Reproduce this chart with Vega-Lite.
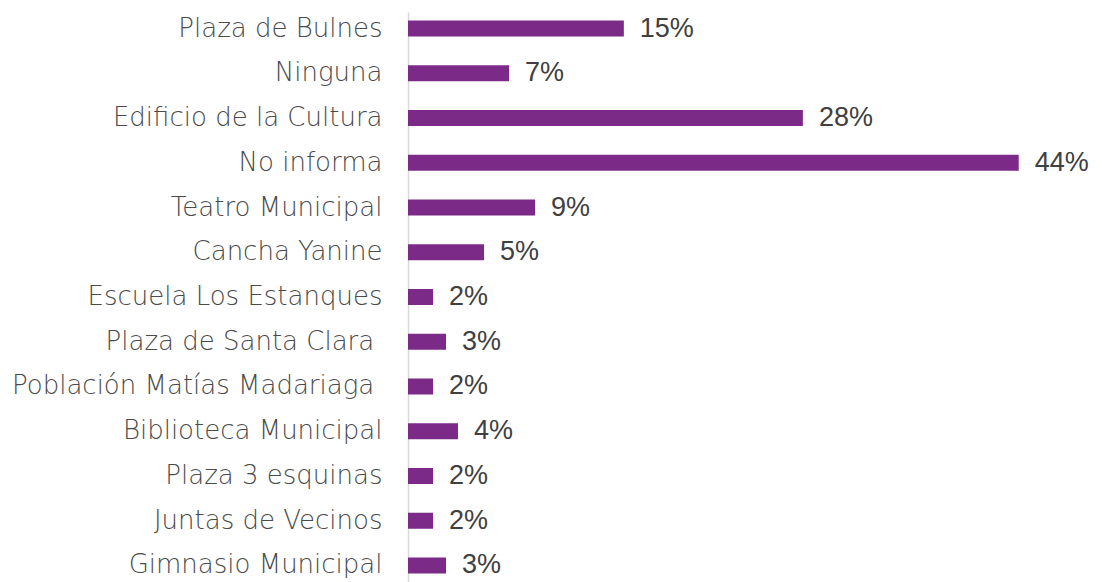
{
  "$schema": "https://vega.github.io/schema/vega-lite/v6.json",
  "autosize": "none",
  "padding": {"left": 408, "top": 12, "right": 0, "bottom": 0},
  "width": 694,
  "height": 570,
  "background": "white",
  "config": {"view": {"stroke": null}},
  "data": {
    "values": [
      {"lugar": "Plaza de Bulnes", "valor": 15.55, "etiqueta": "15%"},
      {"lugar": "Ninguna", "valor": 7.28, "etiqueta": "7%"},
      {"lugar": "Edificio de la Cultura", "valor": 28.45, "etiqueta": "28%"},
      {"lugar": "No informa", "valor": 44.0, "etiqueta": "44%"},
      {"lugar": "Teatro Municipal", "valor": 9.15, "etiqueta": "9%"},
      {"lugar": "Cancha Yanine", "valor": 5.48, "etiqueta": "5%"},
      {"lugar": "Escuela Los Estanques", "valor": 1.8, "etiqueta": "2%"},
      {"lugar": "Plaza de Santa Clara\u00a0\u200b", "valor": 2.74, "etiqueta": "3%"},
      {"lugar": "Población Matías Madariaga\u00a0\u200b", "valor": 1.8, "etiqueta": "2%"},
      {"lugar": "Biblioteca Municipal", "valor": 3.6, "etiqueta": "4%"},
      {"lugar": "Plaza 3 esquinas", "valor": 1.8, "etiqueta": "2%"},
      {"lugar": "Juntas de Vecinos", "valor": 1.8, "etiqueta": "2%"},
      {"lugar": "Gimnasio Municipal", "valor": 2.74, "etiqueta": "3%"}
    ]
  },
  "encoding": {
    "y": {
      "field": "lugar",
      "type": "nominal",
      "sort": null,
      "scale": {"paddingInner": 0.642, "paddingOuter": 0.19},
      "axis": {
        "title": null,
        "ticks": false,
        "labelPadding": 26,
        "labelFont": "DejaVu Sans",
        "labelFontSize": 26,
        "labelFontWeight": 300,
        "labelColor": "#4a4a4a",
        "labelLimit": 500,
        "domainColor": "#d9d9d9",
        "domainWidth": 1.5
      }
    },
    "x": {
      "field": "valor",
      "type": "quantitative",
      "scale": {"domain": [0, 50], "nice": false},
      "axis": null
    }
  },
  "layer": [
    {"mark": {"type": "bar", "color": "#7B2A87"}},
    {
      "mark": {
        "type": "text",
        "align": "left",
        "baseline": "middle",
        "dx": 16,
        "font": "Liberation Sans",
        "fontSize": 27,
        "color": "#404040"
      },
      "encoding": {"text": {"field": "etiqueta"}}
    }
  ]
}
